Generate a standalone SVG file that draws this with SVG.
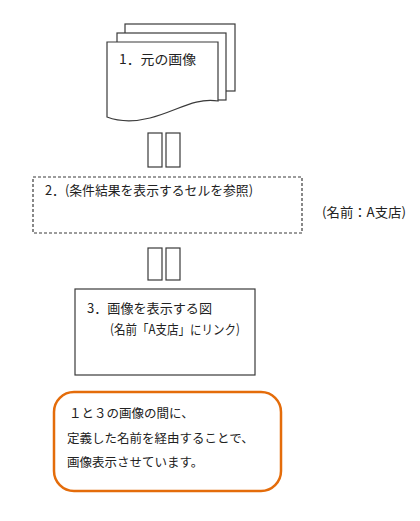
<svg xmlns="http://www.w3.org/2000/svg" width="420" height="521" viewBox="0 0 420 521">
<style>
.ln{fill:#fff;stroke:#3a3a3a;stroke-width:1.2}
.t{font-family:"Noto Sans CJK JP","Noto Sans",sans-serif;font-size:13px;fill:#222}
.n{font-family:"Noto Sans CJK JP","Noto Sans",sans-serif;font-size:12.5px;fill:#222}
</style>
<rect width="420" height="521" fill="#fff"/>
<g id="node1">
<rect class="ln" x="125" y="24" width="110" height="67"/>
<rect class="ln" x="117" y="33" width="109" height="67"/>
<path class="ln" d="M107,42 H218 V101 C195,97 175,112 150,118 C130,123 115,120 107,117 Z"/>
<text class="t" x="119" y="64" textLength="77" lengthAdjust="spacingAndGlyphs">1．元の画像</text>
</g>
<g id="connectors">
<rect class="ln" x="148" y="133" width="14" height="34"/>
<rect class="ln" x="166" y="133" width="14" height="34"/>
<rect class="ln" x="148" y="248" width="14" height="32"/>
<rect class="ln" x="166" y="248" width="14" height="32"/>
</g>
<g id="node2">
<rect class="ln" x="33" y="177" width="269" height="56" stroke-dasharray="3,2"/>
<text class="t" x="45" y="195" textLength="208" lengthAdjust="spacingAndGlyphs">2．(条件結果を表示するセルを参照)</text>
</g>
<g id="label-name">
<text class="t" x="322" y="217" textLength="84" lengthAdjust="spacingAndGlyphs">(名前：A支店)</text>
</g>
<g id="node3">
<rect class="ln" x="75" y="289" width="180" height="86"/>
<text class="t" x="87" y="313" textLength="125" lengthAdjust="spacingAndGlyphs">3．画像を表示する図</text>
<text class="t" x="110" y="334" textLength="130" lengthAdjust="spacingAndGlyphs">(名前「A支店」にリンク)</text>
</g>
<g id="note">
<rect x="54" y="392" width="227" height="99" rx="20" ry="20" fill="#fff" stroke="#E46C0A" stroke-width="2.5"/>
<text class="n" x="69" y="418">１と３の画像の間に、</text>
<text class="n" x="67" y="443">定義した名前を経由することで、</text>
<text class="n" x="67" y="467">画像表示させています。</text>
</g>
</svg>
